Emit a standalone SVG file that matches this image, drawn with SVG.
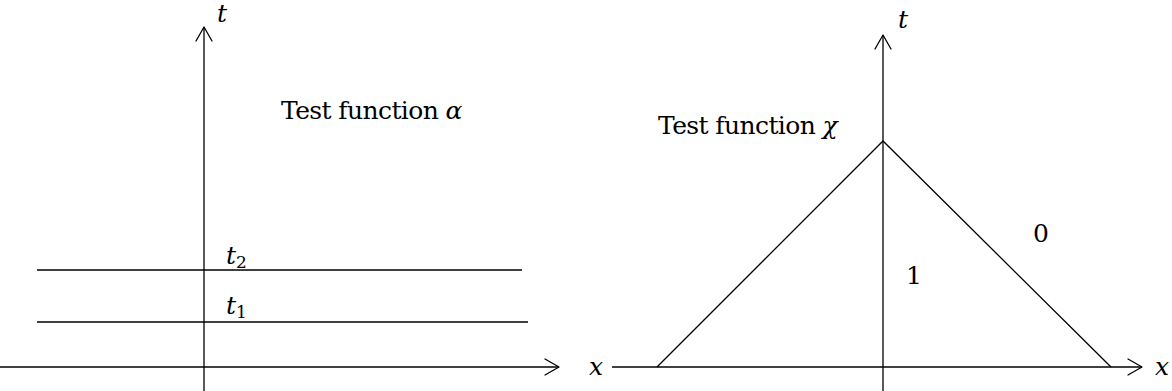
<svg xmlns="http://www.w3.org/2000/svg" width="1172" height="391" viewBox="0 0 1172 391">
<style>
.ln{stroke:#000;stroke-width:1.3;fill:none}
.ah{stroke:#000;stroke-width:1.3;fill:none;stroke-linecap:round;stroke-linejoin:round}
.tx{font-family:'DejaVu Serif','Liberation Serif',serif;font-size:25px;fill:#000}
.tf{letter-spacing:-0.6px}
.m{font-style:italic}
.sub{font-size:17px;font-style:normal}
</style>
<defs>
<marker id="arr" viewBox="-16 -9 18 18" markerWidth="18" markerHeight="18" refX="0" refY="0" orient="auto" markerUnits="userSpaceOnUse">
<path d="M-14,-8 L0,0 L-14,8" class="ah"/>
</marker>
</defs>
<rect width="1172" height="391" fill="#fff"/>
<g id="connectors">
<line id="left-t-axis" class="ln" x1="204" y1="391" x2="204" y2="27" marker-end="url(#arr)"/>
<line id="left-x-axis" class="ln" x1="0" y1="367" x2="559" y2="367" marker-end="url(#arr)"/>
<line id="line-t2" class="ln" x1="37" y1="270" x2="522" y2="270"/>
<line id="line-t1" class="ln" x1="37" y1="322" x2="528" y2="322"/>
<line id="right-t-axis" class="ln" x1="883" y1="391" x2="883" y2="35" marker-end="url(#arr)"/>
<line id="right-x-axis" class="ln" x1="612" y1="367" x2="1142" y2="367" marker-end="url(#arr)"/>
<polyline id="triangle" class="ln" points="657,367 883,141 1111,367"/>
</g>
<g id="labels">
<g id="left-t-label"><text class="tx m" x="217" y="22">t</text></g>
<g id="alpha-label"><text class="tx tf" x="281" y="119">Test function <tspan class="m">α</tspan></text></g>
<g id="t2-label"><text class="tx m" x="226" y="264">t<tspan class="sub" dy="4">2</tspan></text></g>
<g id="t1-label"><text class="tx m" x="226" y="314">t<tspan class="sub" dy="4">1</tspan></text></g>
<g id="right-t-label"><text class="tx m" x="898" y="28">t</text></g>
<g id="chi-label"><text class="tx tf" x="658" y="134">Test function <tspan class="m">χ</tspan></text></g>
<g id="one-label"><text class="tx" x="906" y="284">1</text></g>
<g id="zero-label"><text class="tx" x="1033" y="242">0</text></g>
<g id="x-left-label"><text class="tx m" x="589" y="375">x</text></g>
<g id="x-right-label"><text class="tx m" x="1155" y="375">x</text></g>
</g>
</svg>
